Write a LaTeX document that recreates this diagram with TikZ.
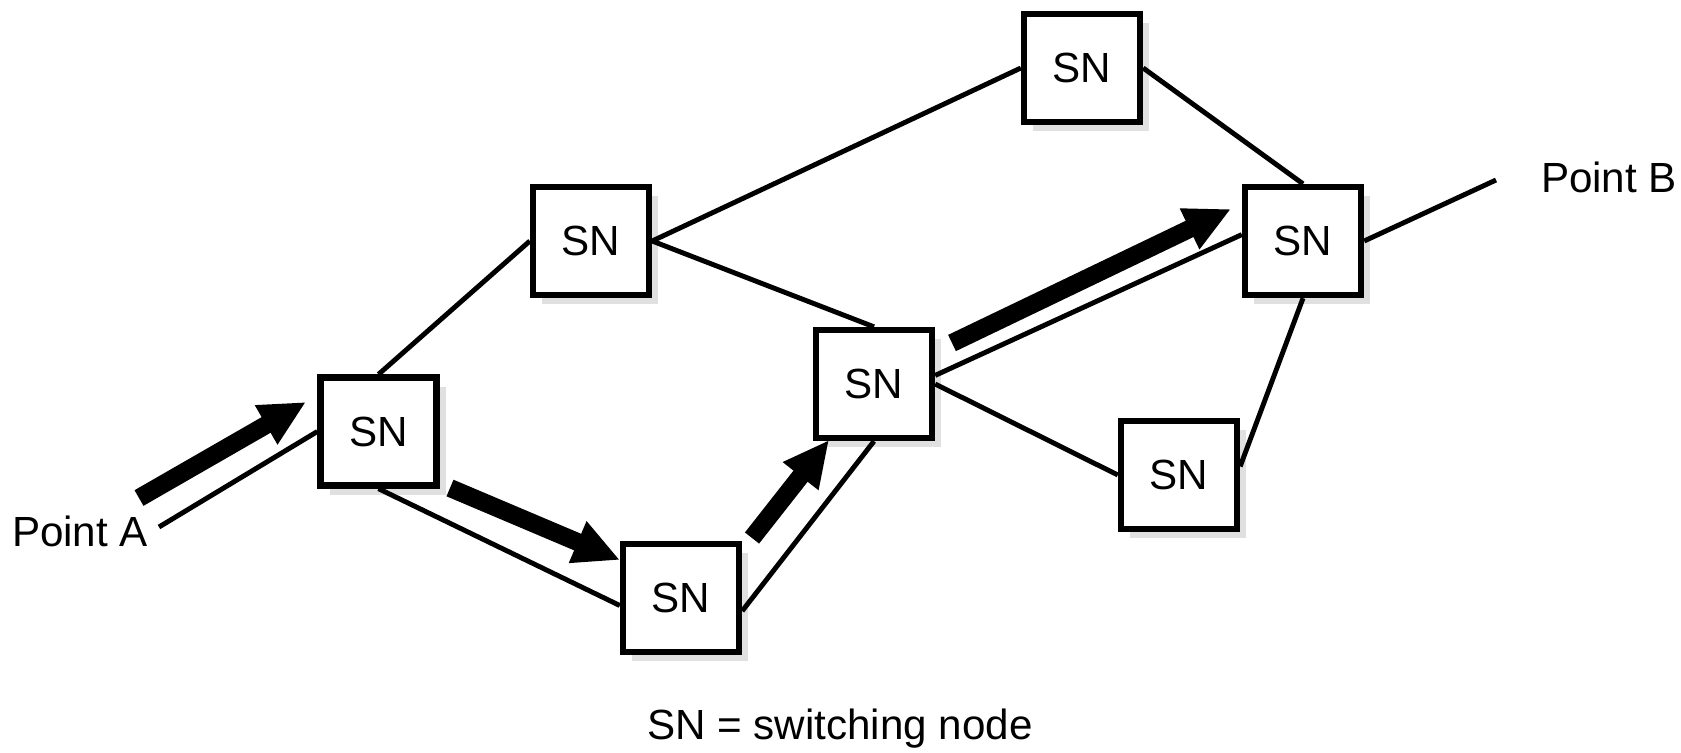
\documentclass[tikz,border=0pt]{standalone}
\usepackage{fontspec}
\setmainfont{Liberation Sans}
\usepackage{tikz}
\usetikzlibrary{arrows.meta, shadows}

\begin{document}
\begin{tikzpicture}[
		sn/.style={rectangle, draw, fill=white, line width=1.8pt, minimum width=1.16cm,
			minimum height=1.08cm, inner sep=0pt, font=\fontsize{12}{14}\selectfont,
			drop shadow={shadow xshift=0.09cm, shadow yshift=-0.09cm, fill=black!12, opacity=1}},
		link/.style={line width=1.4pt},
		route/.style={-{Triangle[length=4.6mm,width=4.2mm]}, line width=1.8mm},
		lbl/.style={font=\fontsize{12}{14}\selectfont}
	]
		\useasboundingbox (0,0) rectangle (16.81,7.52);

		\node[sn] (snA) at (3.785,3.205) {SN};
		\node[sn] (snUp) at (5.91,5.11) {SN};
		\node[sn] (snLow) at (6.81,1.54) {SN};
		\node[sn] (snMid) at (8.74,3.68) {SN};
		\node[sn] (snTop) at (10.82,6.84) {SN};
		\node[sn] (snB) at (13.03,5.11) {SN};
		\node[sn] (snRight) at (11.79,2.77) {SN};

		\node[lbl] (ptA) at (0.80,2.21) {Point A};
		\node[lbl] (ptB) at (16.09,5.75) {Point B};
		\node[lbl] (legend) at (8.40,0.23) {SN = switching node};

		\coordinate (endA) at (1.59,2.25);
		\coordinate (endB) at (14.96,5.72);

		\draw[link] (endA) -- (snA.west);
		\draw[link] (snA.north) -- (snUp.west);
		\draw[link] (snA.south) -- (snLow.187);
		\draw[link] (snUp.east) -- (snTop.west);
		\draw[link] (snUp.east) -- (snMid.north);
		\draw[link] (snLow.-12) -- (snMid.south);
		\draw[link] (snMid.8) -- (snB.174);
		\draw[link] (snMid.east) -- (snRight.west);
		\draw[link] (snRight.8) -- (snB.south);
		\draw[link] (snTop.east) -- (snB.north);
		\draw[link] (snB.east) -- (endB);

		% path from A to B
		\coordinate (r1s) at (1.39,2.54);
		\coordinate (r1e) at (3.06,3.50);
		\coordinate (r2s) at (4.50,2.64);
		\coordinate (r2e) at (6.20,1.92);
		\coordinate (r3s) at (7.52,2.14);
		\coordinate (r3e) at (8.29,3.12);
		\coordinate (r4s) at (9.52,4.09);
		\coordinate (r4e) at (12.31,5.43);

		\draw[route] (r1s) -- (r1e);
		\draw[route] (r2s) -- (r2e);
		\draw[route] (r3s) -- (r3e);
		\draw[route] (r4s) -- (r4e);
	\end{tikzpicture}
\end{document}
